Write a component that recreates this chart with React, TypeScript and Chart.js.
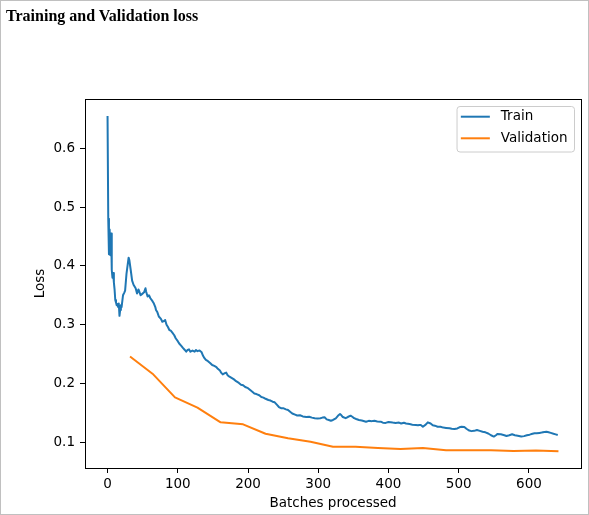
import React, { useEffect, useRef } from "react";
import { Chart, registerables } from "chart.js";

Chart.register(...registerables);

const titleText = "Training and Validation loss";
const xAxisLabel = "Batches processed";
const yAxisLabel = "Loss";
const seriesLabels = ["Train", "Validation"];
const seriesColors = ["#1f77b4", "#ff7f0e"];

const trainBatches = [
  0, 1, 2, 3, 4, 5, 6, 7, 8, 9, 10, 11, 12, 13, 14, 15, 16, 17, 18, 19, 20, 22, 24, 25, 27, 29, 30, 31, 33, 35,
  37, 40, 42, 44, 45, 47, 49, 52, 54, 55, 57, 59, 61, 64, 66, 68, 69, 71, 73, 76, 78, 80, 82, 84, 86, 88, 90, 92,
  95, 97, 100, 102, 105, 107, 110, 112, 114, 116, 118, 121, 124, 126, 128, 131, 134, 136, 138, 140, 143, 146, 149,
  152, 155, 157, 160, 162, 164, 166, 169, 171, 173, 176, 180, 183, 187, 190, 193, 196, 200, 204, 207, 209, 212,
  216, 219, 222, 225, 229, 232, 235, 238, 241, 244, 247, 250, 254, 257, 260, 263, 267, 270, 274, 278, 283, 287,
  291, 295, 299, 303, 306, 309, 312, 315, 318, 321, 325, 328, 331, 333, 335, 339, 342, 346, 349, 351, 354, 358,
  362, 368, 372, 376, 380, 384, 389, 392, 396, 400, 406, 410, 415, 418, 422, 425, 430, 434, 439, 442, 444, 446,
  449, 453, 456, 460, 463, 466, 470, 474, 478, 482, 487, 490, 494, 498, 501, 504, 508, 511, 515, 518, 522, 526, 530, 534, 538,
  542, 546, 550, 553, 555, 560, 565, 568, 572, 576, 580, 584, 589, 593, 597, 601, 605, 608, 611, 615, 618, 622, 625,
  628, 631, 635, 638, 641,
];
const trainLoss = [
  0.655, 0.48, 0.42, 0.462, 0.418, 0.455, 0.393, 0.38, 0.388, 0.372, 0.36, 0.342, 0.338, 0.333, 0.335, 0.33, 0.336,
  0.315, 0.325, 0.333, 0.33, 0.35, 0.355, 0.358, 0.387, 0.405, 0.414, 0.41, 0.393, 0.375, 0.368, 0.362, 0.353, 0.36,
  0.357, 0.35, 0.352, 0.355, 0.362, 0.356, 0.348, 0.35, 0.345, 0.34, 0.336, 0.33, 0.325, 0.321, 0.314, 0.31, 0.305,
  0.306, 0.308, 0.3, 0.296, 0.291, 0.29, 0.287, 0.282, 0.277, 0.272, 0.268, 0.264, 0.261, 0.257, 0.254, 0.257, 0.258,
  0.254, 0.256, 0.254, 0.257, 0.255, 0.256, 0.253, 0.247, 0.243, 0.24, 0.238, 0.235, 0.2315, 0.23, 0.228, 0.225,
  0.222, 0.218, 0.2155, 0.217, 0.2185, 0.214, 0.212, 0.21, 0.207, 0.204, 0.201, 0.198, 0.197, 0.194, 0.192, 0.188,
  0.185, 0.183, 0.182, 0.18, 0.177, 0.176, 0.174, 0.172, 0.171, 0.169, 0.168, 0.164, 0.16, 0.158, 0.158, 0.156,
  0.155, 0.152, 0.149, 0.147, 0.1455, 0.146, 0.144, 0.143, 0.1435, 0.142, 0.141, 0.1405, 0.141, 0.142, 0.1425, 0.139,
  0.138, 0.1367, 0.138, 0.1408, 0.145, 0.148, 0.146, 0.143, 0.141, 0.143, 0.1453, 0.143, 0.141, 0.1396, 0.138,
  0.137, 0.135, 0.1365, 0.136, 0.1367, 0.1355, 0.135, 0.1333, 0.133, 0.1345, 0.1335, 0.133, 0.1335, 0.132, 0.1333, 0.132,
  0.131, 0.13, 0.1295, 0.129, 0.1295, 0.1294, 0.1265, 0.13, 0.134, 0.132, 0.129, 0.1283, 0.1265, 0.1265, 0.125,
  0.1245, 0.124, 0.123, 0.1226, 0.1235, 0.1255, 0.1265, 0.126, 0.123, 0.12, 0.119, 0.1195, 0.121, 0.1195, 0.118, 0.117, 0.115, 0.112, 0.1097,
  0.112, 0.114, 0.1136, 0.112, 0.1107, 0.112, 0.1136, 0.112, 0.111, 0.1097, 0.1105, 0.112, 0.113, 0.1145, 0.1155,
  0.1153, 0.116, 0.1165, 0.1175, 0.118, 0.117, 0.116, 0.1145, 0.1135, 0.1125,
];

const valBatches = [32, 64, 96, 128, 161, 193, 225, 257, 289, 321, 353, 385, 417, 449, 482, 514, 546, 578, 610, 642];
const valLoss = [
  0.246, 0.2167, 0.1765, 0.1589, 0.134, 0.1306, 0.1145, 0.1068, 0.101, 0.0925, 0.0925, 0.0903, 0.0886, 0.0905,
  0.0864, 0.0864, 0.0866, 0.0852, 0.0862, 0.0847,
];

const xTicks = [0, 100, 200, 300, 400, 500, 600];
const yTicks = [0.1, 0.2, 0.3, 0.4, 0.5, 0.6];
const xRange = [-32.1, 674.1];
const yRange = [0.0563, 0.6838];

const FONT_FAMILY = '"DejaVu Sans", sans-serif';
const FONT_SIZE = 13.5;

const framePlugin = {
  id: "mplFrame",
  afterDatasetsDraw(chart: any) {
    const { ctx, chartArea } = chart;
    ctx.save();
    ctx.strokeStyle = "#000";
    ctx.lineWidth = 1;
    const l = Math.round(chartArea.left) + 0.5;
    const t = Math.round(chartArea.top) + 0.5;
    const r = Math.round(chartArea.right) + 0.5;
    const b = Math.round(chartArea.bottom) + 0.5;
    ctx.strokeRect(l, t, r - l, b - t);
    ctx.restore();
  },
};

const legendPlugin = {
  id: "mplLegend",
  afterDatasetsDraw(chart: any) {
    const { ctx, chartArea } = chart;
    ctx.save();
    ctx.font = `${FONT_SIZE}px ${FONT_FAMILY}`;
    const labels = chart.data.datasets.map((d: any) => d.label);
    const tw = Math.max(...labels.map((l: string) => ctx.measureText(l).width));
    const pad = 4.3;
    const handle = 29;
    const gap = 11;
    const w = pad + handle + gap + tw + 6.5;
    const h = 45.5;
    const right = Math.round(chartArea.right) - 7;
    const top = Math.round(chartArea.top) + 7;
    const left = right - w;
    ctx.beginPath();
    ctx.roundRect(left + 0.5, top + 0.5, w, h, 3);
    ctx.fillStyle = "rgba(255,255,255,0.8)";
    ctx.fill();
    ctx.strokeStyle = "#cccccc";
    ctx.lineWidth = 1;
    ctx.stroke();
    chart.data.datasets.forEach((d: any, i: number) => {
      const y = top + 10.7 + i * 21.6;
      ctx.beginPath();
      ctx.moveTo(left + pad, y);
      ctx.lineTo(left + pad + handle, y);
      ctx.strokeStyle = d.borderColor;
      ctx.lineWidth = 2;
      ctx.stroke();
      ctx.fillStyle = "#000";
      ctx.textBaseline = "middle";
      ctx.textAlign = "left";
      ctx.fillText(d.label, left + pad + handle + gap, y);
    });
    ctx.restore();
  },
};

export default function App() {
  const canvasRef = useRef<HTMLCanvasElement | null>(null);

  useEffect(() => {
    const canvas = canvasRef.current;
    if (!canvas) return;
    const font = { family: FONT_FAMILY, size: FONT_SIZE };
    const chart = new Chart(canvas, {
      type: "line",
      data: {
        datasets: [
          {
            label: seriesLabels[0],
            data: trainBatches.map((x, i) => ({ x, y: trainLoss[i] })),
            borderColor: seriesColors[0],
            backgroundColor: seriesColors[0],
            borderWidth: 2,
            pointRadius: 0,
            tension: 0,
            borderJoinStyle: "round",
          },
          {
            label: seriesLabels[1],
            data: valBatches.map((x, i) => ({ x, y: valLoss[i] })),
            borderColor: seriesColors[1],
            backgroundColor: seriesColors[1],
            borderWidth: 2,
            pointRadius: 0,
            tension: 0,
            borderJoinStyle: "round",
          },
        ],
      },
      options: {
        animation: false,
        responsive: false,
        devicePixelRatio: 1,
        layout: { padding: { top: 99, right: 8, left: 0, bottom: 0 } },
        plugins: {
          legend: { display: false },
          title: { display: false },
          tooltip: { enabled: false },
        },
        scales: {
          x: {
            type: "linear",
            min: xRange[0],
            max: xRange[1],
            afterBuildTicks: (s: any) => {
              s.ticks = xTicks.map((v) => ({ value: v }));
            },
            afterFit: (s: any) => {
              s.height = 47;
            },
            ticks: {
              autoSkip: false,
              maxRotation: 0,
              padding: 3,
              color: "#000",
              font,
              callback: (v: any) => String(v),
            },
            grid: {
              display: true,
              drawOnChartArea: false,
              drawTicks: true,
              tickLength: 5,
              color: "#000",
              lineWidth: 1,
            },
            border: { display: false },
            title: {
              display: true,
              text: xAxisLabel,
              color: "#000",
              font,
              padding: { top: 0, bottom: 3.5 },
            },
          },
          y: {
            type: "linear",
            min: yRange[0],
            max: yRange[1],
            afterBuildTicks: (s: any) => {
              s.ticks = yTicks.map((v) => ({ value: v }));
            },
            afterFit: (s: any) => {
              s.width = 85;
            },
            ticks: {
              autoSkip: false,
              padding: 5,
              color: "#000",
              font,
              callback: (v: any) => Number(v).toFixed(1),
            },
            grid: {
              display: true,
              drawOnChartArea: false,
              drawTicks: true,
              tickLength: 5,
              color: "#000",
              lineWidth: 1,
            },
            border: { display: false },
            title: {
              display: true,
              text: yAxisLabel,
              color: "#000",
              font,
              padding: { top: 32, bottom: 0 },
            },
          },
        },
      },
      plugins: [framePlugin, legendPlugin],
    } as any);
    return () => chart.destroy();
  }, []);

  return (
    <div style={{ position: "absolute", left: 0, top: 0, width: 589, height: 515, background: "#fff" }}>
      <canvas
        ref={canvasRef}
        width={589}
        height={515}
        style={{ position: "absolute", left: 0, top: 0, width: 589, height: 515 }}
      />
      <div
        style={{
          position: "absolute",
          left: 0,
          top: 0,
          width: 589,
          height: 515,
          boxSizing: "border-box",
          border: "1px solid #c0c0c0",
          pointerEvents: "none",
        }}
      />
      <div
        style={{
          position: "absolute",
          left: 6,
          top: 7.5,
          fontFamily: '"Liberation Serif", "Times New Roman", serif',
          fontWeight: "bold",
          fontSize: 16,
          lineHeight: "16px",
          color: "#000",
          whiteSpace: "nowrap",
        }}
      >
        {titleText}
      </div>
    </div>
  );
}
